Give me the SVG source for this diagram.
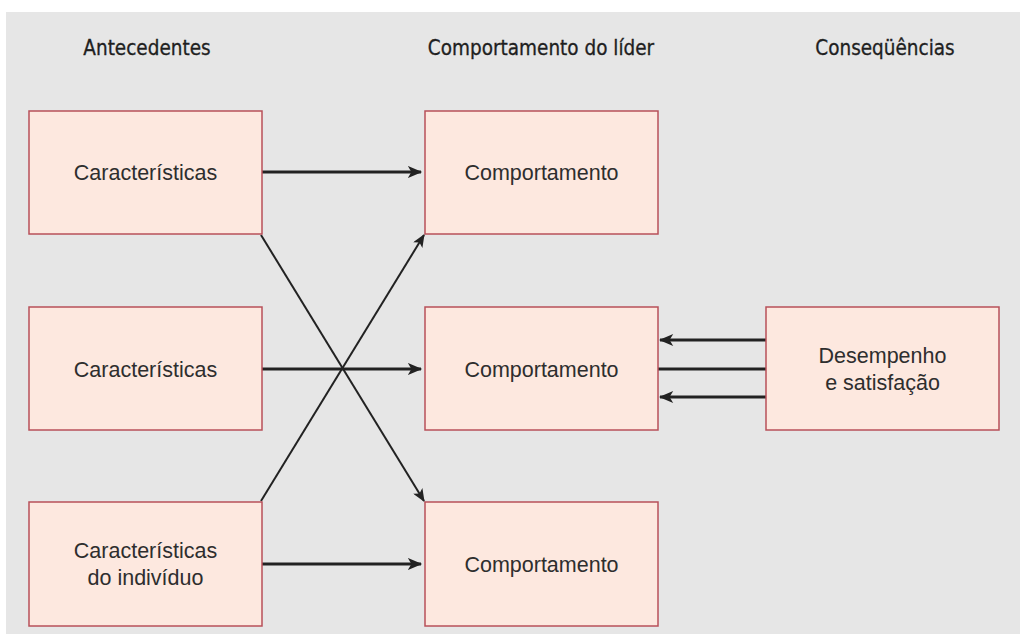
<svg xmlns="http://www.w3.org/2000/svg" width="1020" height="634" viewBox="0 0 1020 634">
<defs>
<style>
.box{fill:#fde8df;stroke:#b8505a;stroke-width:1.5}
.t{font-family:"Liberation Sans",Arial,sans-serif;font-size:21.5px;fill:#2e2e2e;text-anchor:middle}
.h{font-family:"DejaVu Sans Condensed","Liberation Sans",sans-serif;font-size:20.5px;fill:#1f1f1f;stroke:#1f1f1f;stroke-width:0.3;text-anchor:middle}
.c{stroke:#222;fill:none}
.hz{stroke-width:3}
.dg{stroke-width:2}
</style>
<marker id="ah" viewBox="0 0 12 10" refX="11" refY="5" markerWidth="13" markerHeight="11" markerUnits="userSpaceOnUse" orient="auto">
<path d="M0,0 L12,5 L0,10 L3,5 z" fill="#222"/>
</marker>
<marker id="ah2" viewBox="0 0 12 10" refX="11" refY="5" markerWidth="15" markerHeight="12" markerUnits="userSpaceOnUse" orient="auto">
<path d="M0,0 L12,5 L0,10 L3,5 z" fill="#222"/>
</marker>
</defs>
<rect x="0" y="0" width="1020" height="634" fill="#ffffff"/>
<rect x="6" y="12" width="1014" height="622" fill="#e6e6e6"/>
<g id="headers">
<text class="h" x="147" y="55">Antecedentes</text>
<text class="h" x="541" y="55">Comportamento do líder</text>
<text class="h" x="885" y="55">Conseqüências</text>
</g>
<g id="connectors">
<line class="c hz" x1="262" y1="172" x2="421" y2="172" marker-end="url(#ah2)"/>
<line class="c hz" x1="262" y1="369" x2="421" y2="369" marker-end="url(#ah2)"/>
<line class="c hz" x1="262" y1="564" x2="421" y2="564" marker-end="url(#ah2)"/>
<line class="c dg" x1="261" y1="235" x2="424" y2="501" marker-end="url(#ah)"/>
<line class="c dg" x1="261" y1="501" x2="424" y2="235" marker-end="url(#ah)"/>
<line class="c hz" x1="766" y1="340" x2="660" y2="340" marker-end="url(#ah2)"/>
<line class="c hz" x1="766" y1="369" x2="658" y2="369"/>
<line class="c hz" x1="766" y1="397" x2="660" y2="397" marker-end="url(#ah2)"/>
</g>
<g id="ant1"><rect class="box" x="29" y="111" width="233" height="123"/><text class="t" x="145.5" y="180">Características</text></g>
<g id="ant2"><rect class="box" x="29" y="307" width="233" height="123"/><text class="t" x="145.5" y="377">Características</text></g>
<g id="ant3"><rect class="box" x="29" y="502" width="233" height="124"/><text class="t" x="145.5" y="558">Características</text><text class="t" x="145.5" y="585">do indivíduo</text></g>
<g id="comp1"><rect class="box" x="425" y="111" width="233" height="123"/><text class="t" x="541.5" y="180">Comportamento</text></g>
<g id="comp2"><rect class="box" x="425" y="307" width="233" height="123"/><text class="t" x="541.5" y="377">Comportamento</text></g>
<g id="comp3"><rect class="box" x="425" y="502" width="233" height="124"/><text class="t" x="541.5" y="572">Comportamento</text></g>
<g id="cons"><rect class="box" x="766" y="307" width="233" height="123"/><text class="t" x="882.5" y="363">Desempenho</text><text class="t" x="882.5" y="390">e satisfação</text></g>
</svg>
